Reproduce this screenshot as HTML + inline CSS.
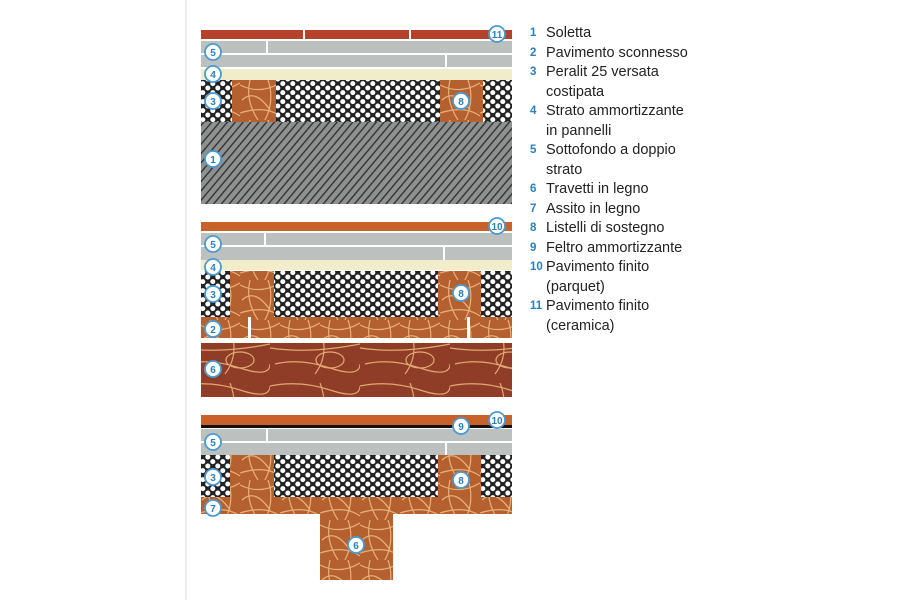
<!DOCTYPE html>
<html><head><meta charset="utf-8"><style>
html,body{margin:0;padding:0;background:#fff;width:900px;height:600px;overflow:hidden}
.lg{position:absolute;font-family:"Liberation Sans",sans-serif;font-size:14.5px;color:#222;line-height:19.5px}
.lg .n{position:absolute;left:0;color:#2a7fc0;font-weight:bold;font-size:11.5px}
.lg .t{position:absolute;left:16px;white-space:nowrap}
</style></head><body>
<svg width="900" height="600" style="position:absolute;left:0;top:0">
<defs>
<pattern id="grav" width="10" height="9" patternUnits="userSpaceOnUse">
<rect width="10" height="9" fill="#222"/>
<circle cx="2.8" cy="2.6" r="2.5" fill="#fff"/><circle cx="7.8" cy="7" r="2.5" fill="#fff"/>
<circle cx="7.8" cy="-2" r="2.5" fill="#fff"/><circle cx="-2.2" cy="7" r="2.5" fill="#fff"/>
</pattern>
<pattern id="hat" width="6" height="6" patternUnits="userSpaceOnUse" patternTransform="rotate(40)">
<rect width="6" height="6" fill="#8e9190"/><rect width="1.4" height="6" fill="#333"/>
</pattern>
<pattern id="wood" width="40" height="40" patternUnits="userSpaceOnUse">
<rect width="40" height="40" fill="#b5602f"/>
<path d="M0 5 Q20 15 40 3 M2 20 Q15 8 30 30 M0 33 Q25 25 40 36 M10 0 Q5 20 18 40 M28 0 Q35 20 25 40" stroke="#e6b07a" stroke-width="1.2" fill="none"/>
</pattern>
<pattern id="wood2" width="90" height="54" patternUnits="userSpaceOnUse">
<rect width="90" height="54" fill="#8f3d27"/>
<path d="M0 8 Q30 2 60 12 T90 8 M0 24 Q40 30 90 20 M5 40 Q30 34 60 44 T90 40 M50 5 Q60 30 45 50" stroke="#e2a772" stroke-width="1.2" fill="none"/>
<ellipse cx="60" cy="36" rx="14" ry="8" stroke="#e2a772" fill="none" stroke-width="1.2"/>
</pattern>
</defs>
<line x1="186" y1="0" x2="186" y2="600" stroke="#ddd"/>
<!-- panel 1 -->
<rect x="201" y="30" width="311" height="9" fill="#b5432b"/>
<rect x="303" y="30" width="2" height="9" fill="#fff"/><rect x="409" y="30" width="2" height="9" fill="#fff"/>
<rect x="201" y="41" width="311" height="12" fill="#bcc0bf"/><rect x="201" y="55" width="311" height="12" fill="#bcc0bf"/>
<rect x="266" y="41" width="2" height="12" fill="#fff"/><rect x="445" y="55" width="2" height="12" fill="#fff"/>
<rect x="201" y="69" width="311" height="11" fill="#f1ecca"/>
<rect x="201" y="80" width="311" height="42" fill="url(#grav)"/>
<rect x="232" y="80" width="44" height="42" fill="url(#wood)"/><rect x="440" y="80" width="43" height="42" fill="url(#wood)"/>
<rect x="201" y="122" width="311" height="82" fill="url(#hat)"/>
<!-- panel 2 -->
<rect x="201" y="222" width="311" height="9" fill="#c8622a"/>
<rect x="201" y="233" width="311" height="12" fill="#bcc0bf"/><rect x="201" y="247" width="311" height="13" fill="#bcc0bf"/>
<rect x="264" y="233" width="2" height="12" fill="#fff"/><rect x="443" y="247" width="2" height="13" fill="#fff"/>
<rect x="201" y="260" width="311" height="10" fill="#f1ecca"/>
<rect x="201" y="271" width="311" height="46" fill="url(#grav)"/>
<rect x="230" y="271" width="44" height="46" fill="url(#wood)"/><rect x="438" y="271" width="43" height="46" fill="url(#wood)"/>
<rect x="201" y="317" width="311" height="21" fill="url(#wood)"/>
<rect x="248" y="317" width="3" height="21" fill="#fff"/><rect x="467" y="317" width="3" height="21" fill="#fff"/>
<rect x="201" y="343" width="311" height="54" fill="url(#wood2)"/>
<!-- panel 3 -->
<rect x="201" y="415" width="311" height="10" fill="#c8622a"/>
<rect x="201" y="425" width="311" height="3" fill="#111"/>
<rect x="201" y="429" width="311" height="12" fill="#bcc0bf"/><rect x="201" y="443" width="311" height="12" fill="#bcc0bf"/>
<rect x="266" y="429" width="2" height="12" fill="#fff"/><rect x="445" y="443" width="2" height="12" fill="#fff"/>
<rect x="201" y="455" width="311" height="42" fill="url(#grav)"/>
<rect x="230" y="455" width="44" height="42" fill="url(#wood)"/><rect x="438" y="455" width="43" height="42" fill="url(#wood)"/>
<rect x="201" y="497" width="311" height="17" fill="url(#wood)"/>
<rect x="320" y="514" width="73" height="66" fill="url(#wood)"/>
<g font-family="Liberation Sans,sans-serif" font-weight="bold" font-size="10" fill="#2a7fc0" text-anchor="middle">
<g stroke="#4a9ad4" stroke-width="1.8" fill="#fff">
<circle cx="497" cy="34" r="8"/><circle cx="213" cy="52" r="8"/><circle cx="213" cy="74" r="8"/><circle cx="213" cy="101" r="8"/><circle cx="213" cy="159" r="8"/><circle cx="461" cy="101" r="8"/>
<circle cx="497" cy="226" r="8"/><circle cx="213" cy="244" r="8"/><circle cx="213" cy="267" r="8"/><circle cx="213" cy="294" r="8"/><circle cx="461" cy="293" r="8"/><circle cx="213" cy="329" r="8"/><circle cx="213" cy="369" r="8"/>
<circle cx="497" cy="420" r="8"/><circle cx="461" cy="426" r="8"/><circle cx="213" cy="442" r="8"/><circle cx="213" cy="477" r="8"/><circle cx="461" cy="480" r="8"/><circle cx="213" cy="508" r="8"/><circle cx="356" cy="545" r="8"/>
</g>
<text x="497" y="38">11</text><text x="213" y="56">5</text><text x="213" y="78">4</text><text x="213" y="105">3</text><text x="213" y="163">1</text><text x="461" y="105">8</text>
<text x="497" y="230">10</text><text x="213" y="248">5</text><text x="213" y="271">4</text><text x="213" y="298">3</text><text x="461" y="297">8</text><text x="213" y="333">2</text><text x="213" y="373">6</text>
<text x="497" y="424">10</text><text x="461" y="430">9</text><text x="213" y="446">5</text><text x="213" y="481">3</text><text x="461" y="484">8</text><text x="213" y="512">7</text><text x="356" y="549">6</text>
</g>
</svg>
<div class="lg" style="left:530px;top:24px">
<span class="n" style="top:0">1</span><span class="t" style="top:0">Soletta</span>
<span class="n" style="top:19.5px">2</span><span class="t" style="top:19.5px">Pavimento sconnesso</span>
<span class="n" style="top:39px">3</span><span class="t" style="top:39px">Peralit 25 versata</span>
<span class="t" style="top:58.5px">costipata</span>
<span class="n" style="top:78px">4</span><span class="t" style="top:78px">Strato ammortizzante</span>
<span class="t" style="top:97.5px">in pannelli</span>
<span class="n" style="top:117px">5</span><span class="t" style="top:117px">Sottofondo a doppio</span>
<span class="t" style="top:136.5px">strato</span>
<span class="n" style="top:156px">6</span><span class="t" style="top:156px">Travetti in legno</span>
<span class="n" style="top:175.5px">7</span><span class="t" style="top:175.5px">Assito in legno</span>
<span class="n" style="top:195px">8</span><span class="t" style="top:195px">Listelli di sostegno</span>
<span class="n" style="top:214.5px">9</span><span class="t" style="top:214.5px">Feltro ammortizzante</span>
<span class="n" style="top:234px">10</span><span class="t" style="top:234px">Pavimento finito</span>
<span class="t" style="top:253.5px">(parquet)</span>
<span class="n" style="top:273px">11</span><span class="t" style="top:273px">Pavimento finito</span>
<span class="t" style="top:292.5px">(ceramica)</span>
</div>
</body></html>
